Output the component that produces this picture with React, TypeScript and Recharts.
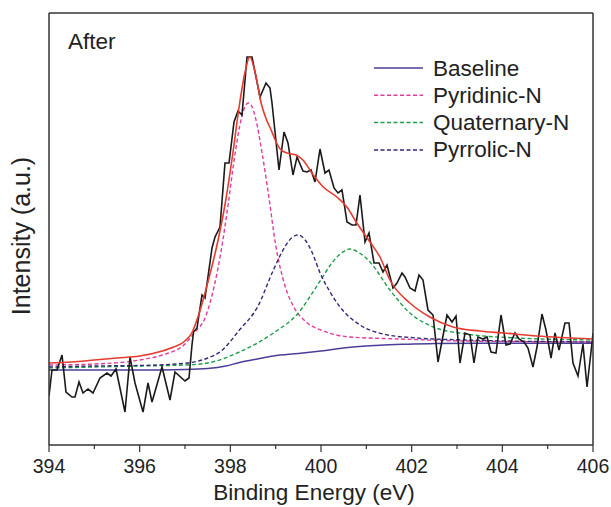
import React from 'react';
import { LineChart, Line, XAxis, YAxis, Legend } from 'recharts';

type P = [number, number];

const rawData: P[] = [
  [394.0,49],[394.066,75],[394.176,75],[394.287,90],[394.375,53],[394.507,48],[394.574,48],[394.662,63],[394.75,52],[394.86,56],[394.971,52],[395.125,67],[395.279,72],[395.368,69],[395.478,76],[395.676,33],[395.787,88],[395.897,62],[396.074,33],[396.184,62],[396.272,43],[396.493,78],[396.669,45],[396.779,73],[397.0,64],[397.088,67],[397.154,100],[397.188,113],[397.265,117],[397.375,150],[397.441,147],[397.596,197],[397.662,208],[397.772,218],[397.882,282],[397.971,282],[398.081,323],[398.169,334],[398.257,330],[398.368,388],[398.478,388],[398.654,348],[398.787,362],[398.875,357],[398.919,342],[399.074,275],[399.184,313],[399.272,302],[399.382,270],[399.471,288],[399.603,274],[399.691,273],[399.779,275],[399.868,263],[399.978,296],[400.088,272],[400.176,275],[400.287,257],[400.375,252],[400.463,255],[400.574,223],[400.684,220],[400.772,220],[400.86,250],[400.971,203],[401.059,212],[401.169,182],[401.279,182],[401.368,173],[401.456,180],[401.588,157],[401.676,162],[401.787,172],[401.853,168],[401.963,157],[402.074,154],[402.162,170],[402.25,165],[402.36,135],[402.471,130],[402.581,83],[402.779,130],[402.89,123],[402.978,129],[403.066,82],[403.176,112],[403.287,110],[403.375,82],[403.463,108],[403.574,106],[403.662,108],[403.75,93],[403.86,92],[403.971,130],[404.081,100],[404.169,101],[404.279,112],[404.368,106],[404.478,103],[404.566,97],[404.676,78],[404.765,98],[404.875,131],[404.963,115],[405.074,87],[405.162,112],[405.25,95],[405.382,122],[405.471,122],[405.559,82],[405.669,69],[405.779,101],[405.868,58],[405.978,102],[406.0,112],
];

const envelope: P[] = [
  [394,82],[394.5,83],[395,85],[395.5,87],[396,89],[396.5,94],[396.75,98],[397.0,104],[397.15,112],[397.3,130],[397.5,162],[397.73,205],[397.9,245],[398.05,290],[398.2,340],[398.32,372],[398.43,388],[398.55,372],[398.69,340],[398.8,325],[398.9,315],[399.0,304],[399.1,296],[399.25,292],[399.45,290],[399.6,285],[399.83,270],[400.05,258],[400.35,248],[400.57,238],[400.79,222],[401.08,203],[401.3,188],[401.52,165],[401.96,142],[402.4,128],[402.91,118],[403.5,114],[404.02,112],[404.76,109],[406,106],
];

const baseline: P[] = [
  [394,75],[396,75],[397,75.5],[397.5,76.5],[397.9,79],[398.2,82.5],[398.6,86],[398.95,89],[399.5,91.5],[400,94],[400.6,97.5],[401.2,99.5],[401.8,100.8],[402.5,101.4],[403.5,101.7],[406,101.7],
];

const pyridinic: P[] = [
  [394,80],[395,81],[396,85],[396.5,90],[397,101],[397.2,112],[397.45,128],[397.65,160],[397.8,195],[397.95,240],[398.1,290],[398.25,328],[398.33,339],[398.4,342],[398.47,339],[398.55,328],[398.7,292],[398.85,248],[399.0,200],[399.2,160],[399.4,138],[399.7,122],[400.0,115],[400.64,108],[401.74,106],[403.2,104],[406,103],
];

const quaternary: P[] = [
  [394,77],[395,78],[396,79],[397,80],[397.5,82],[398.2,93],[398.95,112],[399.46,130],[399.98,164],[400.24,182],[400.45,192],[400.64,196],[400.85,192],[401.08,183],[401.52,155],[401.96,132],[402.48,118],[403.21,111],[404.32,107],[406,105],
];

const pyrrolic: P[] = [
  [394,78],[395,79],[396,79.5],[397.05,82],[397.5,87],[397.8,94],[398.2,115],[398.6,138],[398.95,175],[399.2,198],[399.35,207],[399.5,210],[399.65,205],[399.8,193],[399.98,172],[400.2,153],[400.42,138],[400.86,120],[401.37,111],[402.11,107],[403.21,105],[406,103],
];

const xTicks = [394, 395, 396, 397, 398, 399, 400, 401, 402, 403, 404, 405, 406];

const legendItems = [
  { name: 'Baseline', color: '#4a3f98', dash: undefined as string | undefined },
  { name: 'Pyridinic-N', color: '#e23c9c', dash: '4 2.5' },
  { name: 'Quaternary-N', color: '#1f9e48', dash: '4 2.5' },
  { name: 'Pyrrolic-N', color: '#2e2a7a', dash: '4 2.5' },
];

const toRows = (arr: P[]) => arr.map(([e, v]) => ({ e, v }));

const FONT = '"Liberation Sans", Arial, Helvetica, sans-serif';

const Tick = (props: any) => {
  const { x, y, payload } = props;
  const major = payload.value % 2 === 0;
  return (
    <g>
      <line x1={x} x2={x} y1={y} y2={y + (major ? 7 : 4)} stroke="#333" strokeWidth={1.2} />
      {major && (
        <text x={x} y={y + 28} textAnchor="middle" fontSize={19.5} fill="#222" fontFamily={FONT}>
          {payload.value}
        </text>
      )}
    </g>
  );
};

const LegendContent = () => (
  <svg width={235} height={120}>
    {legendItems.map((it, i) => {
      const cy = 16 + i * 27.3;
      return (
        <g key={it.name}>
          <line x1={4} x2={53} y1={cy} y2={cy} stroke={it.color} strokeWidth={1.5} strokeDasharray={it.dash} />
          <text x={63} y={cy + 7.5} fontSize={22.5} fill="#222" fontFamily={FONT}>
            {it.name}
          </text>
        </g>
      );
    })}
  </svg>
);

export default function App() {
  return (
    <div style={{ position: 'absolute', left: 0, top: 0, width: 611, height: 507, background: '#fff', fontFamily: FONT }}>
      <LineChart width={611} height={507} margin={{ top: 0, right: 0, bottom: 0, left: 0 }}>
        <XAxis
          xAxisId="b"
          dataKey="e"
          type="number"
          domain={[394, 406]}
          ticks={xTicks}
          allowDataOverflow
          height={62}
          tickLine={false}
          tickSize={0}
          tickMargin={0}
          tick={<Tick />}
          axisLine={{ stroke: '#333', strokeWidth: 1.5 }}
          interval={0}
        />
        <XAxis
          xAxisId="t"
          orientation="top"
          dataKey="e"
          type="number"
          domain={[394, 406]}
          height={13}
          tick={false}
          tickLine={false}
          axisLine={{ stroke: '#333', strokeWidth: 1.5 }}
        />
        <YAxis
          yAxisId="l"
          type="number"
          domain={[0, 432]}
          width={49}
          tick={false}
          tickLine={false}
          axisLine={{ stroke: '#333', strokeWidth: 1.5 }}
          allowDataOverflow
        />
        <YAxis
          yAxisId="r"
          orientation="right"
          type="number"
          domain={[0, 432]}
          width={18}
          tick={false}
          tickLine={false}
          axisLine={{ stroke: '#333', strokeWidth: 1.5 }}
        />
        <Legend
          layout="vertical"
          align="center"
          verticalAlign="middle"
          content={<LegendContent />}
          wrapperStyle={{ left: 370, top: 52, width: 235, height: 120 }}
        />
        <Line xAxisId="b" yAxisId="l" data={toRows(baseline)} dataKey="v" type="monotone" stroke="#4a3f98" strokeWidth={1.5} dot={false} isAnimationActive={false} name="Baseline" />
        <Line xAxisId="b" yAxisId="l" data={toRows(pyridinic)} dataKey="v" type="monotone" stroke="#e23c9c" strokeWidth={1.4} strokeDasharray="4 2.5" dot={false} isAnimationActive={false} name="Pyridinic-N" />
        <Line xAxisId="b" yAxisId="l" data={toRows(quaternary)} dataKey="v" type="monotone" stroke="#1f9e48" strokeWidth={1.4} strokeDasharray="4 2.5" dot={false} isAnimationActive={false} name="Quaternary-N" />
        <Line xAxisId="b" yAxisId="l" data={toRows(pyrrolic)} dataKey="v" type="monotone" stroke="#2e2a7a" strokeWidth={1.4} strokeDasharray="4 2.5" dot={false} isAnimationActive={false} name="Pyrrolic-N" />
        <Line xAxisId="b" yAxisId="l" data={toRows(rawData)} dataKey="v" type="linear" stroke="#1a1a1a" strokeWidth={1.6} dot={false} isAnimationActive={false} name="Raw" legendType="none" />
        <Line xAxisId="b" yAxisId="l" data={toRows(envelope)} dataKey="v" type="monotone" stroke="#e63b2e" strokeWidth={1.6} dot={false} isAnimationActive={false} name="Fit" legendType="none" />
      </LineChart>
      <svg width={611} height={507} style={{ position: 'absolute', left: 0, top: 0, pointerEvents: 'none' }}>
        <text x={68} y={49} fontSize={22.5} fill="#222" fontFamily={FONT}>After</text>
        <text x={314} y={500} fontSize={22.5} fill="#222" textAnchor="middle" fontFamily={FONT}>Binding Energy (eV)</text>
        <text transform="translate(30,236) rotate(-90)" fontSize={25} fill="#222" textAnchor="middle" fontFamily={FONT}>Intensity (a.u.)</text>
      </svg>
    </div>
  );
}
